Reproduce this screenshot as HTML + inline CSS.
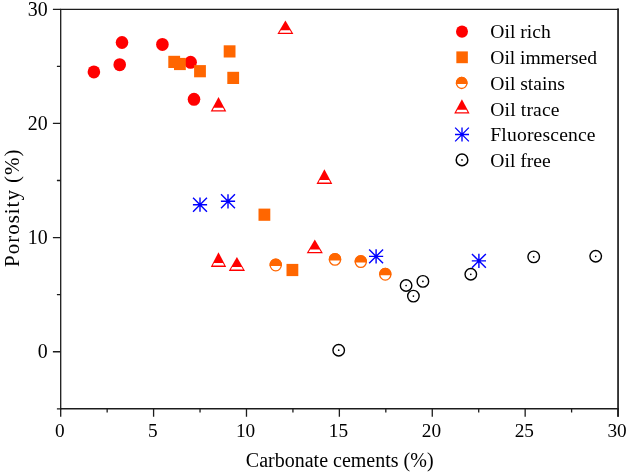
<!DOCTYPE html>
<html><head><meta charset="utf-8"><title>Porosity vs carbonate cements</title>
<style>
html,body{margin:0;padding:0;background:#fff}
svg{display:block;will-change:transform}
text{font-family:"Liberation Serif",serif;fill:#000}
.tk{font-size:19.3px}
.lb{font-size:20px}
.lg{font-size:19.6px}
</style></head><body>
<svg width="629" height="473" viewBox="0 0 629 473">
<rect width="629" height="473" fill="#fff"/>
<g stroke="#1c1c1c" fill="none" stroke-linecap="square"><path d="M60.7,408.8 V9.3 H618.05" stroke-width="1.3"/><path d="M618.05,9.3 V415.8" stroke-width="1.7"/><path d="M60.7,408.8 H618.05" stroke-width="1.45"/></g>
<path d="M60.70,408.8 v8.0 M153.59,408.8 v8.0 M246.48,408.8 v8.0 M339.37,408.8 v8.0 M432.27,408.8 v8.0 M525.16,408.8 v8.0 M618.05,408.8 v8.0 M107.15,408.8 v3.8 M200.04,408.8 v3.8 M292.93,408.8 v3.8 M385.82,408.8 v3.8 M478.71,408.8 v3.8 M571.60,408.8 v3.8 M60.7,351.73 h-7.8 M60.7,237.59 h-7.8 M60.7,123.44 h-7.8 M60.7,9.30 h-7.8 M60.7,408.80 h-3.8 M60.7,294.66 h-3.8 M60.7,180.51 h-3.8 M60.7,66.37 h-3.8" stroke="#1c1c1c" stroke-width="1.3" fill="none"/>
<text class="tk" x="59.8" y="436.6" text-anchor="middle">0</text>
<text class="tk" x="152.7" y="436.6" text-anchor="middle">5</text>
<text class="tk" x="245.6" y="436.6" text-anchor="middle">10</text>
<text class="tk" x="338.5" y="436.6" text-anchor="middle">15</text>
<text class="tk" x="431.4" y="436.6" text-anchor="middle">20</text>
<text class="tk" x="524.3" y="436.6" text-anchor="middle">25</text>
<text class="tk" x="617.1" y="436.6" text-anchor="middle">30</text>
<text class="tk" style="font-size:19.9px" x="47.7" y="358.3" text-anchor="end">0</text>
<text class="tk" style="font-size:19.9px" x="47.7" y="244.2" text-anchor="end">10</text>
<text class="tk" style="font-size:19.9px" x="47.7" y="130.0" text-anchor="end">20</text>
<text class="tk" style="font-size:19.9px" x="47.7" y="15.9" text-anchor="end">30</text>
<text class="lb" x="339.7" y="466.7" text-anchor="middle">Carbonate cements (%)</text>
<text style="font-size:21px" transform="translate(19.4,266.9) rotate(-90)" textLength="117.4" lengthAdjust="spacing">Porosity (%)</text>
<ellipse cx="93.90" cy="71.95" rx="6.3" ry="6.5" fill="#ff0000"/>
<ellipse cx="119.70" cy="64.70" rx="6.3" ry="6.5" fill="#ff0000"/>
<ellipse cx="122.00" cy="42.50" rx="6.3" ry="6.5" fill="#ff0000"/>
<ellipse cx="162.40" cy="44.40" rx="6.3" ry="6.5" fill="#ff0000"/>
<ellipse cx="190.60" cy="62.30" rx="6.3" ry="6.5" fill="#ff0000"/>
<ellipse cx="194.00" cy="99.30" rx="6.3" ry="6.5" fill="#ff0000"/>
<rect x="168.30" y="55.80" width="11.8" height="12.200000000000001" fill="#ff6600"/>
<rect x="174.00" y="57.90" width="11.8" height="12.200000000000001" fill="#ff6600"/>
<rect x="194.10" y="65.10" width="11.8" height="12.200000000000001" fill="#ff6600"/>
<rect x="223.70" y="45.30" width="11.8" height="12.200000000000001" fill="#ff6600"/>
<rect x="227.30" y="71.80" width="11.8" height="12.200000000000001" fill="#ff6600"/>
<rect x="258.50" y="208.60" width="11.8" height="12.200000000000001" fill="#ff6600"/>
<rect x="286.50" y="263.90" width="11.8" height="12.200000000000001" fill="#ff6600"/>
<g transform="translate(275.75,265.05)"><ellipse rx="5.6" ry="5.8" fill="#fff" stroke="#ff6600" stroke-width="1.3"/><path d="M-6.17,1.0 A6.25,6.45 0 1 1 6.17,1.0 Z" fill="#ff6600"/></g>
<g transform="translate(335.00,259.40)"><ellipse rx="5.6" ry="5.8" fill="#fff" stroke="#ff6600" stroke-width="1.3"/><path d="M-6.17,1.0 A6.25,6.45 0 1 1 6.17,1.0 Z" fill="#ff6600"/></g>
<g transform="translate(360.80,261.60)"><ellipse rx="5.6" ry="5.8" fill="#fff" stroke="#ff6600" stroke-width="1.3"/><path d="M-6.17,1.0 A6.25,6.45 0 1 1 6.17,1.0 Z" fill="#ff6600"/></g>
<g transform="translate(385.30,274.30)"><ellipse rx="5.6" ry="5.8" fill="#fff" stroke="#ff6600" stroke-width="1.3"/><path d="M-6.17,1.0 A6.25,6.45 0 1 1 6.17,1.0 Z" fill="#ff6600"/></g>
<g transform="translate(285.4,20.4)"><path d="M0,0 L8.0,13.7 L-8.0,13.7 Z" fill="#ff0000"/><path d="M-4.53,9.90 L4.53,9.90 L5.99,12.40 L-5.99,12.40 Z" fill="#fff"/></g>
<g transform="translate(218.5,96.9)"><path d="M0,0 L7.8,14.6 L-7.8,14.6 Z" fill="#ff0000"/><path d="M-4.52,10.80 L4.52,10.80 L5.86,13.30 L-5.86,13.30 Z" fill="#fff"/></g>
<g transform="translate(324.4,169.3)"><path d="M0,0 L7.9,14.6 L-7.9,14.6 Z" fill="#ff0000"/><path d="M-4.59,10.80 L4.59,10.80 L5.95,13.30 L-5.95,13.30 Z" fill="#fff"/></g>
<g transform="translate(314.8,239.4)"><path d="M0,0 L8.1,13.8 L-8.1,13.8 Z" fill="#ff0000"/><path d="M-4.62,10.00 L4.62,10.00 L6.09,12.50 L-6.09,12.50 Z" fill="#fff"/></g>
<g transform="translate(218.5,252.3)"><path d="M0,0 L7.7,14.6 L-7.7,14.6 Z" fill="#ff0000"/><path d="M-4.45,10.80 L4.45,10.80 L5.76,13.30 L-5.76,13.30 Z" fill="#fff"/></g>
<g transform="translate(236.9,256.9)"><path d="M0,0 L8.1,14.0 L-8.1,14.0 Z" fill="#ff0000"/><path d="M-4.65,10.20 L4.65,10.20 L6.10,12.70 L-6.10,12.70 Z" fill="#fff"/></g>
<path transform="translate(200.0,204.7)" d="M0,-7.1 V7.1 M-7.1,0 H7.1 M-6.957999999999999,-6.957999999999999 L6.957999999999999,6.957999999999999 M-6.957999999999999,6.957999999999999 L6.957999999999999,-6.957999999999999" stroke="#0000ff" stroke-width="1.4" fill="none"/>
<path transform="translate(228.0,201.3)" d="M0,-7.1 V7.1 M-7.1,0 H7.1 M-6.957999999999999,-6.957999999999999 L6.957999999999999,6.957999999999999 M-6.957999999999999,6.957999999999999 L6.957999999999999,-6.957999999999999" stroke="#0000ff" stroke-width="1.4" fill="none"/>
<path transform="translate(376.1,256.4)" d="M0,-7.1 V7.1 M-7.1,0 H7.1 M-6.957999999999999,-6.957999999999999 L6.957999999999999,6.957999999999999 M-6.957999999999999,6.957999999999999 L6.957999999999999,-6.957999999999999" stroke="#0000ff" stroke-width="1.4" fill="none"/>
<path transform="translate(478.9,260.9)" d="M0,-7.1 V7.1 M-7.1,0 H7.1 M-6.957999999999999,-6.957999999999999 L6.957999999999999,6.957999999999999 M-6.957999999999999,6.957999999999999 L6.957999999999999,-6.957999999999999" stroke="#0000ff" stroke-width="1.4" fill="none"/>
<g transform="translate(338.7,350.2)"><circle r="5.75" fill="#fff" stroke="#000000" stroke-width="1.4"/><circle r="0.85" fill="#000000"/></g>
<g transform="translate(406.1,285.5)"><circle r="5.75" fill="#fff" stroke="#000000" stroke-width="1.4"/><circle r="0.85" fill="#000000"/></g>
<g transform="translate(413.4,296.1)"><circle r="5.75" fill="#fff" stroke="#000000" stroke-width="1.4"/><circle r="0.85" fill="#000000"/></g>
<g transform="translate(422.9,281.4)"><circle r="5.75" fill="#fff" stroke="#000000" stroke-width="1.4"/><circle r="0.85" fill="#000000"/></g>
<g transform="translate(470.8,274.3)"><circle r="5.75" fill="#fff" stroke="#000000" stroke-width="1.4"/><circle r="0.85" fill="#000000"/></g>
<g transform="translate(533.7,256.9)"><circle r="5.75" fill="#fff" stroke="#000000" stroke-width="1.4"/><circle r="0.85" fill="#000000"/></g>
<g transform="translate(595.7,256.3)"><circle r="5.75" fill="#fff" stroke="#000000" stroke-width="1.4"/><circle r="0.85" fill="#000000"/></g>
<ellipse cx="462.00" cy="31.60" rx="6.0" ry="6.2" fill="#ff0000"/>
<rect x="456.35" y="51.40" width="11.5" height="11.8" fill="#ff6600"/>
<g transform="translate(461.70,83.00)"><ellipse rx="5.3" ry="5.5" fill="#fff" stroke="#ff6600" stroke-width="1.3"/><path d="M-5.87,1.0 A5.95,6.15 0 1 1 5.87,1.0 Z" fill="#ff6600"/></g>
<g transform="translate(461.9,99.3)"><path d="M0,0 L7.7,14.3 L-7.7,14.3 Z" fill="#ff0000"/><path d="M-4.40,10.50 L4.40,10.50 L5.75,13.00 L-5.75,13.00 Z" fill="#fff"/></g>
<path transform="translate(462.0,134.5)" d="M0,-7.0 V7.0 M-7.0,0 H7.0 M-6.859999999999999,-6.859999999999999 L6.859999999999999,6.859999999999999 M-6.859999999999999,6.859999999999999 L6.859999999999999,-6.859999999999999" stroke="#0000ff" stroke-width="1.35" fill="none"/>
<g transform="translate(462.0,159.9)"><circle r="5.8" fill="#fff" stroke="#000000" stroke-width="1.5"/><circle r="0.85" fill="#000000"/></g>
<text class="lg" x="490.3" y="38.3">Oil rich</text>
<text class="lg" x="490.3" y="64.0" letter-spacing="-0.05">Oil immersed</text>
<text class="lg" x="490.3" y="89.8">Oil stains</text>
<text class="lg" x="490.3" y="115.5" letter-spacing="0.14">Oil trace</text>
<text class="lg" x="490.3" y="141.3" letter-spacing="0.17">Fluorescence</text>
<text class="lg" x="490.3" y="167.1">Oil free</text>
</svg></body></html>
